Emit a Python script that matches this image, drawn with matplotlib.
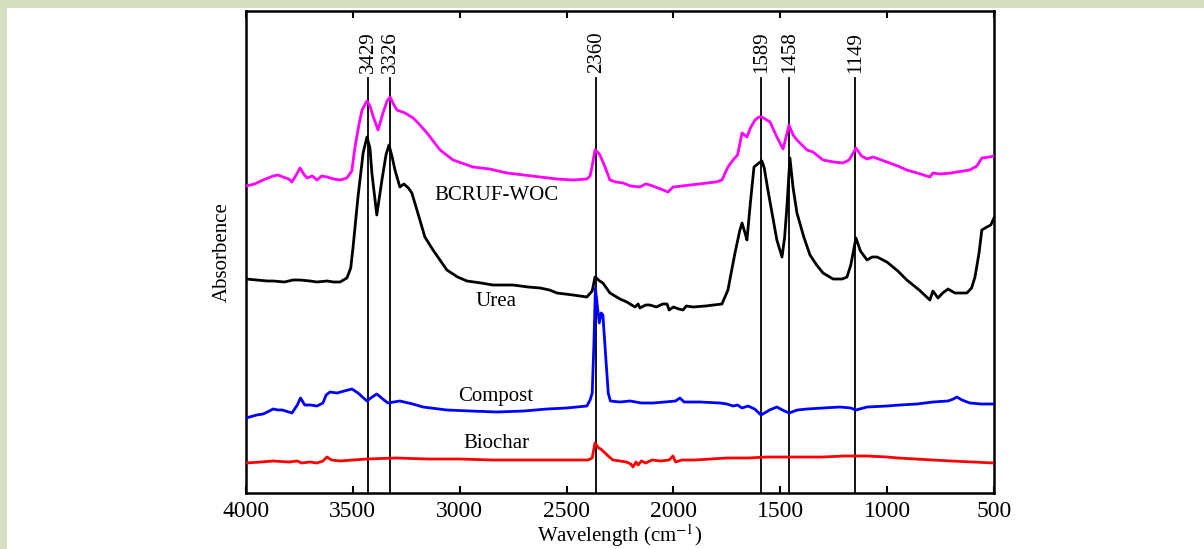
import matplotlib.pyplot as plt
from matplotlib.patches import Rectangle

plt.rcParams['font.family'] = ['Liberation Serif', 'DejaVu Serif']
plt.rcParams['mathtext.fontset'] = 'stix'

# FTIR spectra (wavenumber, absorbance in arbitrary units)
bcruf_w = [4000, 3960, 3920, 3873, 3850, 3827, 3800, 3785, 3765, 3747, 3730, 3715, 3690, 3668,
           3645, 3621, 3590, 3560, 3528, 3505, 3490, 3470, 3457, 3434, 3420, 3404, 3382, 3359,
           3340, 3326, 3310, 3294, 3256, 3218, 3190, 3153, 3092, 3031, 2938, 2860, 2779, 2700,
           2624, 2545, 2470, 2405, 2390, 2381, 2367, 2355, 2344, 2320, 2297, 2270, 2236, 2200,
           2157, 2130, 2110, 2060, 2025, 2002, 1960, 1922, 1880, 1843, 1800, 1773, 1745, 1721,
           1700, 1679, 1656, 1640, 1618, 1600, 1586, 1548, 1516, 1487, 1459, 1440, 1422, 1375,
           1347, 1300, 1250, 1207, 1178, 1146, 1120, 1094, 1066, 1001, 950, 908, 860, 814, 800,
           786, 753, 700, 674, 613, 580, 557, 520, 500]
bcruf_a = [307, 309, 313, 317, 318, 316, 314, 311, 318, 325, 319, 315, 317, 313,
           317, 316, 314, 313, 315, 322, 346, 370, 383, 392, 387, 376, 363, 380,
           392, 396, 389, 383, 380, 375, 369, 360, 343, 333, 326, 324, 320, 318,
           316, 314, 313, 314, 317, 326, 343, 341, 338, 326, 313, 311, 310, 307,
           306, 309, 308, 304, 301, 306, 307, 308, 309, 310, 311, 313, 326, 333,
           338, 360, 356, 365, 373, 376, 376, 371, 356, 344, 368, 358, 353, 343,
           341, 333, 331, 330, 333, 345, 337, 334, 336, 331, 327, 323, 320, 317, 316,
           320, 319, 320, 321, 323, 327, 335, 336, 337]

urea_w = [4000, 3950, 3900, 3873, 3820, 3780, 3747, 3700, 3668, 3621, 3590, 3560, 3528, 3510,
          3499, 3476, 3452, 3434, 3420, 3411, 3388, 3364, 3345, 3331, 3315, 3303, 3280, 3261,
          3240, 3224, 3196, 3163, 3125, 3060, 3010, 2966, 2900, 2844, 2751, 2680, 2624, 2580,
          2545, 2470, 2405, 2380, 2367, 2345, 2330, 2297, 2250, 2218, 2180, 2165, 2157, 2130,
          2110, 2080, 2050, 2030, 2020, 2000, 1975, 1955, 1940, 1908, 1850, 1773, 1745, 1712,
          1690, 1679, 1665, 1656, 1640, 1623, 1600, 1586, 1575, 1558, 1516, 1492, 1480, 1469,
          1455, 1440, 1422, 1390, 1361, 1330, 1300, 1253, 1210, 1188, 1170, 1146, 1125, 1094,
          1070, 1047, 1001, 950, 908, 850, 800, 786, 762, 740, 715, 683, 650, 627, 605, 589,
          570, 557, 533, 515, 500]
urea_a = [214, 213, 212, 212, 211, 213, 213, 212, 211, 212, 211, 211, 215, 225,
          246, 296, 340, 356, 345, 320, 278, 313, 338, 348, 335, 323, 306, 309,
          305, 300, 280, 256, 243, 223, 216, 212, 210, 208, 208, 206, 205, 203,
          200, 198, 196, 202, 216, 212, 210, 200, 194, 191, 186, 189, 185, 188,
          188, 186, 189, 189, 183, 186, 184, 183, 187, 186, 187, 189, 203, 240,
          262, 270, 260, 253, 290, 326, 330, 332, 325, 303, 253, 236, 255, 286,
          335, 305, 280, 256, 238, 228, 220, 214, 214, 216, 228, 255, 242, 233,
          236, 236, 231, 222, 213, 203, 193, 202, 195, 200, 204, 200, 200, 200, 205, 216,
          240, 263, 266, 268, 275]

compost_w = [4000, 3950, 3920, 3900, 3873, 3850, 3830, 3800, 3785, 3760, 3745, 3725, 3700,
             3668, 3640, 3625, 3607, 3574, 3540, 3504, 3476, 3434, 3410, 3388, 3360, 3336,
             3280, 3220, 3172, 3060, 2950, 2826, 2700, 2592, 2500, 2405, 2390, 2380, 2372,
             2365, 2355, 2347, 2338, 2330, 2318, 2305, 2295, 2250, 2203, 2150, 2096, 2040,
             1990, 1970, 1950, 1876, 1782, 1750, 1721, 1700, 1679, 1651, 1620, 1590, 1550,
             1516, 1490, 1459, 1420, 1375, 1300, 1221, 1170, 1146, 1094, 1000, 940, 860, 786,
             715, 690, 674, 650, 613, 560, 500]
compost_a = [75, 78, 79, 81, 84, 83, 83, 81, 80, 88, 95, 88, 88,
             87, 90, 98, 101, 100, 102, 104, 100, 92, 96, 99, 94, 90,
             92, 89, 86, 83, 82, 81, 82, 84, 85, 87, 93, 100, 150,
             205, 185, 170, 180, 178, 140, 100, 92, 91, 92, 90, 90, 91,
             92, 95, 91, 91, 90, 89, 87, 88, 85, 87, 84, 78, 83,
             86, 83, 80, 83, 84, 85, 86, 85, 83, 86, 87, 88, 89, 91,
             92, 94, 96, 93, 90, 89, 89]

biochar_w = [4000, 3930, 3873, 3800, 3760, 3740, 3700, 3668, 3640, 3621, 3600, 3560, 3500,
             3434, 3300, 3150, 3000, 2850, 2700, 2550, 2400, 2380, 2367, 2350, 2340, 2320,
             2300, 2283, 2250, 2220, 2200, 2189, 2175, 2165, 2150, 2130, 2100, 2060, 2020,
             2002, 1990, 1960, 1900, 1750, 1650, 1563, 1450, 1300, 1200, 1094, 1000, 950,
             786, 700, 600, 500]
biochar_a = [30, 31, 32, 31, 32, 30, 31, 30, 32, 36, 33, 32, 33,
             34, 35, 34, 34, 33, 33, 33, 33, 35, 50, 45, 44, 40,
             36, 33, 32, 31, 29, 26, 31, 28, 32, 30, 33, 32, 33,
             37, 31, 33, 33, 35, 35, 36, 36, 36, 37, 37, 36, 35,
             33, 32, 31, 30]

series = [
    (bcruf_w, bcruf_a, '#ff00ff', 'BCRUF-WOC', 298),
    (urea_w, urea_a, 'black', 'Urea', 192),
    (compost_w, compost_a, '#0000ff', 'Compost', 97),
    (biochar_w, biochar_a, '#ff0000', 'Biochar', 50),
]
label_x = 2830

peaks = [3429, 3326, 2360, 1589, 1458, 1149]
xticks = [4000, 3500, 3000, 2500, 2000, 1500, 1000, 500]

fig = plt.figure(figsize=(12.04, 5.49), dpi=100)
fig.patch.set_facecolor('#d6dfc0')
fig.patches.append(Rectangle((7 / 1204, 0), 1 - 7 / 1204, 1 - 8 / 549,
                             transform=fig.transFigure, facecolor='white',
                             edgecolor='none', zorder=-10))

ax = fig.add_axes([246 / 1204, 56 / 549, 748 / 1204, 482 / 549])
ax.set_zorder(5)
ax.patch.set_alpha(0)

for w, a, c, name, ly in series:
    ax.plot(w, a, color=c, lw=2.0, zorder=3)
    ax.text(label_x, ly, name, ha='center', va='center', fontsize=15)

for p in peaks:
    ax.axvline(p, ymin=0, ymax=0.861, color='black', lw=1.3, zorder=2)
    ax.text(p, 0.872, str(p), transform=ax.get_xaxis_transform(), rotation=90,
            ha='center', va='bottom', fontsize=15)

ax.set_xlim(4000, 500)
ax.set_ylim(0, 482)
ax.set_xticks(xticks)
ax.set_xticklabels([str(t) for t in xticks], fontsize=17)
ax.set_yticks([])
ax.tick_params(axis='x', direction='in', top=True, length=5, width=1.5, pad=6)
for s in ax.spines.values():
    s.set_linewidth(1.8)

ax.set_xlabel('Wavelength (cm$^{-1}$)', fontsize=15, labelpad=0)
ax.set_ylabel('Absorbence', fontsize=15, labelpad=10)

fig.savefig('out.png', dpi=100)
